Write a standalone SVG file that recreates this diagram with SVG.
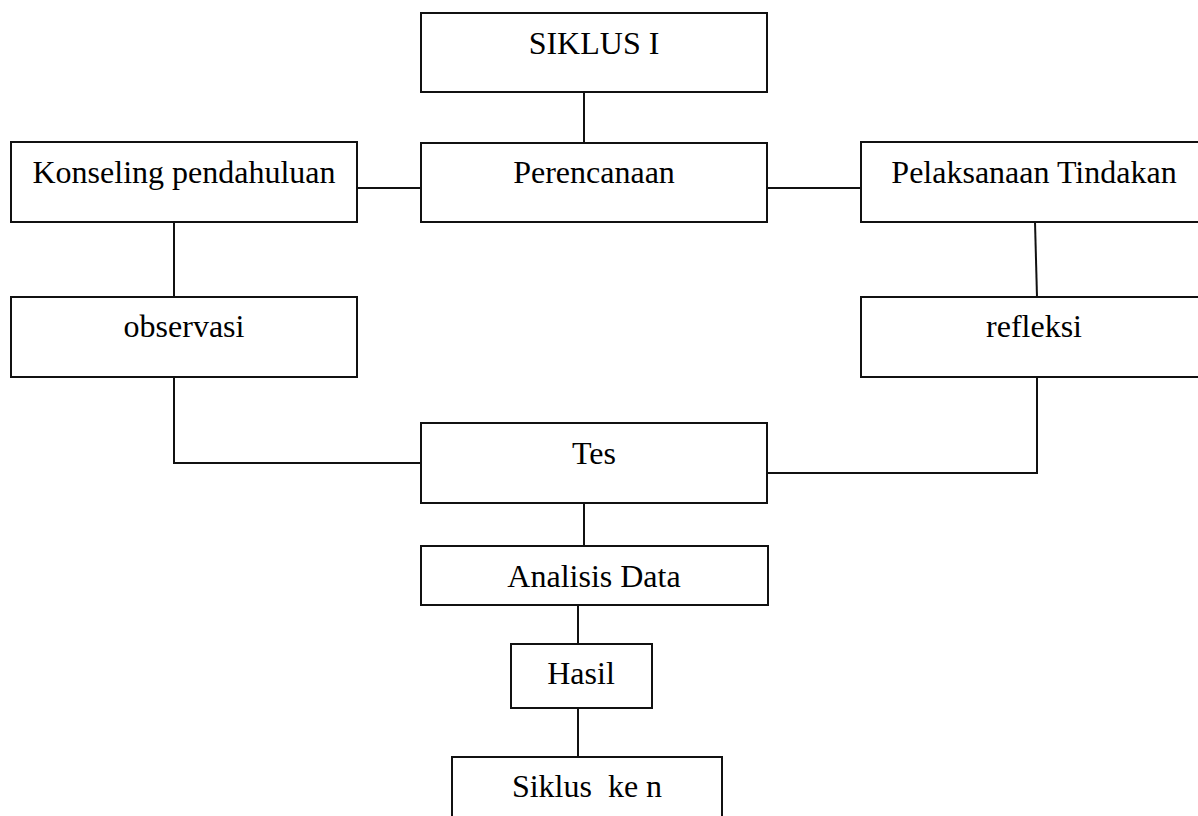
<svg xmlns="http://www.w3.org/2000/svg" width="1198" height="816" viewBox="0 0 1198 816">
<style>
.box{fill:#fff;stroke:#111;stroke-width:2}
.lbl{font-family:"Liberation Serif","Times New Roman",serif;font-size:32px;fill:#000;text-anchor:middle;white-space:pre}
.con{fill:none;stroke:#111;stroke-width:2}
</style>
<rect width="1198" height="816" fill="#fff"/>
<g id="connectors">
<line class="con" x1="584" y1="92" x2="584" y2="143"/>
<line class="con" x1="357" y1="188" x2="421" y2="188"/>
<line class="con" x1="767" y1="188" x2="861" y2="188"/>
<line class="con" x1="174" y1="222" x2="174" y2="297"/>
<line class="con" x1="1035" y1="222" x2="1037" y2="297"/>
<polyline class="con" points="174,377 174,463 421,463"/>
<polyline class="con" points="1037,377 1037,473 767,473"/>
<line class="con" x1="584" y1="503" x2="584" y2="546"/>
<line class="con" x1="578" y1="605" x2="578" y2="644"/>
<line class="con" x1="578" y1="708" x2="578" y2="757"/>
</g>
<g id="siklus1"><rect class="box" x="421" y="13" width="346" height="79"/><text class="lbl" x="594" y="54">SIKLUS I</text></g>
<g id="perencanaan"><rect class="box" x="421" y="143" width="346" height="79"/><text class="lbl" x="594" y="183">Perencanaan</text></g>
<g id="konseling"><rect class="box" x="11" y="142" width="346" height="80"/><text class="lbl" x="184" y="183">Konseling pendahuluan</text></g>
<g id="pelaksanaan"><rect class="box" x="861" y="142" width="348" height="80"/><text class="lbl" x="1034" y="183">Pelaksanaan Tindakan</text></g>
<g id="observasi"><rect class="box" x="11" y="297" width="346" height="80"/><text class="lbl" x="184" y="337">observasi</text></g>
<g id="refleksi"><rect class="box" x="861" y="297" width="348" height="80"/><text class="lbl" x="1034" y="337">refleksi</text></g>
<g id="tes"><rect class="box" x="421" y="423" width="346" height="80"/><text class="lbl" x="594" y="464">Tes</text></g>
<g id="analisis"><rect class="box" x="421" y="546" width="347" height="59"/><text class="lbl" x="594" y="587">Analisis Data</text></g>
<g id="hasil"><rect class="box" x="511" y="644" width="141" height="64"/><text class="lbl" x="581" y="684">Hasil</text></g>
<g id="siklusn"><rect class="box" x="452" y="757" width="270" height="80"/><text class="lbl" x="587" y="797" xml:space="preserve">Siklus  ke n</text></g>
</svg>
